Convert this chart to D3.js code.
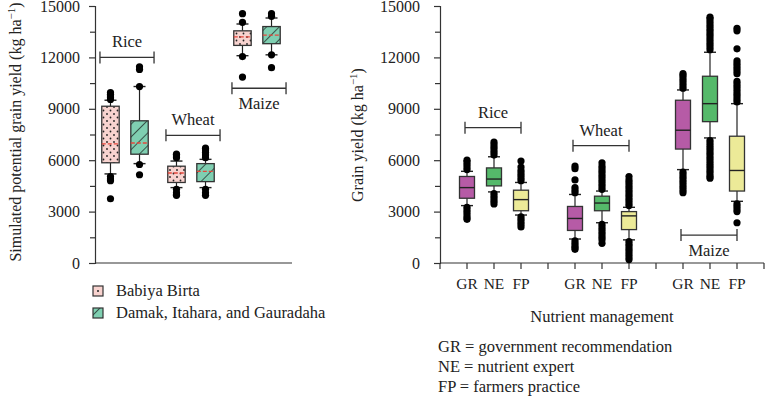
<!DOCTYPE html>
<html>
<head>
<meta charset="utf-8">
<script src="https://cdn.jsdelivr.net/npm/d3@7"></script>
<style>
  body { margin: 0; background: #fff; }
  svg text { font-family: "Liberation Serif", "DejaVu Serif", serif; fill: #222; }
</style>
</head>
<body>
<svg id="chart" width="766" height="397"></svg>
<script>
'use strict';

// ---- left panel data: simulated potential yield by crop and site ----
const crops = ["Rice", "Wheat", "Maize"];
const sites = ["Babiya Birta", "Damak, Itahara, and Gauradaha"];

// [whiskerLow, q1, median, q3, whiskerHigh] per crop, per site
const simBabiya = [
  [5200, 5850, 6950, 9150, 9500],
  [4400, 4700, 5250, 5650, 5950],
  [12100, 12700, 13200, 13550, 13950]
];
const simDamak = [
  [5800, 6350, 7000, 8300, 10300],
  [4400, 4750, 5350, 5800, 6050],
  [12150, 12800, 13300, 13800, 14300]
];
const simBabiyaOut = [
  [9550, 9650, 9750, 9850, 9950, 5050, 4900, 4800, 3750],
  [6150, 6250, 6350, 4300, 4100, 4000, 3950],
  [14050, 14550, 12050, 10850]
];
const simDamakOut = [
  [10300, 11300, 11450, 5750, 5150],
  [6150, 6300, 6450, 6600, 6700, 4300, 4100, 3950],
  [14400, 14550, 12150, 11400]
];

// ---- right panel data: observed yield by nutrient management ----
const treatments = ["GR", "NE", "FP"];
const obsStats = {
  Rice:  [[3350, 3780, 4400, 5050, 5350], [4150, 4500, 4900, 5550, 6200], [2800, 3050, 3700, 4250, 4700]],
  Wheat: [[1400, 1900, 2600, 3300, 4000], [2350, 3050, 3500, 3900, 4200], [1350, 1950, 2750, 3000, 3250]],
  Maize: [[5450, 6650, 7750, 9500, 10100], [7300, 8250, 9300, 10900, 12300], [3600, 4200, 5400, 7400, 9300]]
};
const obsOut = {
  Rice: [
    [5450, 5600, 5750, 5900, 6000, 3250, 3100, 2950, 2800, 2650, 2550],
    [6300, 6450, 6600, 6750, 6900, 7050, 4050, 3900, 3750, 3600, 3450],
    [4800, 4950, 5100, 5250, 5400, 5600, 5950, 2700, 2550, 2400, 2250, 2100]
  ],
  Wheat: [
    [4100, 4250, 4400, 4850, 5500, 5650, 1300, 1150, 1000, 900, 800],
    [4300, 4450, 4600, 4750, 4900, 5050, 5200, 5350, 5500, 5650, 5850, 2250, 2100, 1950, 1800, 1650, 1500, 1350, 1150],
    [3350, 3500, 3650, 3800, 3950, 4100, 4250, 4400, 4550, 4700, 4850, 5050, 1250, 1100, 950, 800, 650, 500, 350, 200]
  ],
  Maize: [
    [10200, 10350, 10500, 10650, 10800, 10950, 11050, 5300, 5150, 5000, 4850, 4700, 4550, 4400, 4250, 4100],
    [12450, 12600, 12750, 12900, 13050, 13200, 13350, 13500, 13650, 13800, 13950, 14100, 14250, 14350,
     7150, 7000, 6850, 6700, 6550, 6400, 6250, 6100, 5950, 5800, 5650, 5500, 5350, 5200, 5050, 4950],
    [13700, 13550, 12500, 11800, 11650, 11500, 11350, 11200, 11050, 10600, 10450, 10300, 10150, 10000,
     9850, 9700, 9550, 9400, 3450, 3300, 3150, 3000, 2350]
  ]
};

const yTicks = [0, 3000, 6000, 9000, 12000, 15000];
const yMinorTicks = [1500, 4500, 7500, 10500, 13500];
const leftBrackets = [12000, 7450, 10200];   // y value of the crop brackets
const rightBrackets = [7900, 6850, 1630];
const treatmentNotes = ["GR = government recommendation", "NE = nutrient expert", "FP = farmers practice"];

const svg = d3.select("#chart");
const axisColor = "#333";
const labelSize = 16.5;

// patterns for the left panel
const defs = svg.append("defs");
const dots = defs.append("pattern").attr("id", "dots").attr("patternUnits", "userSpaceOnUse")
  .attr("width", 7).attr("height", 7);
dots.append("rect").attr("width", 7).attr("height", 7).attr("fill", "#f8d3cf");
dots.append("circle").attr("cx", 2).attr("cy", 2).attr("r", 0.9).attr("fill", "#222");
dots.append("circle").attr("cx", 5.5).attr("cy", 5.5).attr("r", 0.9).attr("fill", "#222");

const hatch = defs.append("pattern").attr("id", "hatch").attr("patternUnits", "userSpaceOnUse")
  .attr("width", 9).attr("height", 9).attr("patternTransform", "rotate(45)");
hatch.append("rect").attr("width", 9).attr("height", 9).attr("fill", "#7fcfb1");
hatch.append("line").attr("x1", 0).attr("y1", 0).attr("x2", 0).attr("y2", 9)
  .attr("stroke", "#111").attr("stroke-width", 1.3);

const y = d3.scaleLinear().domain([0, 15000]).range([263, 6]);

function drawYAxis(g, x0, pad) {
  g.append("g")
    .attr("transform", `translate(${x0},0)`)
    .call(d3.axisLeft(y).tickValues(yTicks).tickSize(6).tickPadding(pad).tickFormat(d3.format("d")))
    .call(a => a.select(".domain").attr("stroke", axisColor).attr("stroke-width", 1.2))
    .call(a => a.selectAll(".tick line").attr("stroke", axisColor).attr("stroke-width", 1.2))
    .call(a => a.selectAll("text").attr("font-size", 16).attr("fill", "#222")
      .style("font-family", "'Liberation Serif', serif"));
  g.append("g")
    .attr("transform", `translate(${x0},0)`)
    .call(d3.axisLeft(y).tickValues(yMinorTicks).tickSize(5).tickFormat(""))
    .call(a => a.select(".domain").remove())
    .call(a => a.selectAll(".tick line").attr("stroke", axisColor).attr("stroke-width", 1.2));
}

function drawBox(g, cx, w, s, out, fill, medianStyle) {
  const [lo, q1, med, q3, hi] = s;
  const cap = 12;
  g.append("line").attr("x1", cx).attr("x2", cx).attr("y1", y(lo)).attr("y2", y(q1))
    .attr("stroke", "#222").attr("stroke-width", 1.2);
  g.append("line").attr("x1", cx).attr("x2", cx).attr("y1", y(q3)).attr("y2", y(hi))
    .attr("stroke", "#222").attr("stroke-width", 1.2);
  [lo, hi].forEach(v => g.append("line").attr("x1", cx - cap / 2).attr("x2", cx + cap / 2)
    .attr("y1", y(v)).attr("y2", y(v)).attr("stroke", "#222").attr("stroke-width", 1.4));
  g.append("rect").attr("x", cx - w / 2).attr("width", w)
    .attr("y", y(q3)).attr("height", y(q1) - y(q3))
    .attr("fill", fill).attr("stroke", "#333").attr("stroke-width", 1.3);
  const m = g.append("line").attr("x1", cx - w / 2).attr("x2", cx + w / 2)
    .attr("y1", y(med)).attr("y2", y(med));
  if (medianStyle === "red") {
    m.attr("stroke", "#e5483c").attr("stroke-width", 1.4).attr("stroke-dasharray", "4,2");
  } else {
    m.attr("stroke", "#222").attr("stroke-width", 1.4);
  }
  g.selectAll(null).data(out).enter().append("circle")
    .attr("cx", cx).attr("cy", d => y(d)).attr("r", 3.6).attr("fill", "#000");
}

function bracket(g, x1, x2, yv, label, above) {
  const yy = y(yv);
  g.append("path")
    .attr("d", `M${x1},${yy - 6}V${yy + 6}M${x1},${yy}H${x2}M${x2},${yy - 6}V${yy + 6}`)
    .attr("fill", "none").attr("stroke", "#333").attr("stroke-width", 1.3);
  g.append("text").attr("x", (x1 + x2) / 2).attr("y", above ? yy - 10 : yy + 21)
    .attr("text-anchor", "middle").attr("font-size", labelSize).text(label);
}

// ---------------- left panel ----------------
const left = svg.append("g");
const xCrop = d3.scaleBand().domain(crops).range([92, 290]).paddingInner(0.12).paddingOuter(0.06);
const xSite = d3.scaleBand().domain(sites).range([0, xCrop.bandwidth()]);
const siteFill = ["url(#dots)", "url(#hatch)"];

drawYAxis(left, 95, 9);
left.append("line").attr("x1", 95).attr("x2", 292).attr("y1", y(0)).attr("y2", y(0))
  .attr("stroke", axisColor).attr("stroke-width", 1.2);

crops.forEach((c, i) => {
  const x0 = xCrop(c);
  [[simBabiya, simBabiyaOut], [simDamak, simDamakOut]].forEach(([st, out], j) => {
    const cx = x0 + xSite(sites[j]) + xSite.bandwidth() / 2;
    drawBox(left, cx, xSite.bandwidth() * 0.6, st[i], out[i], siteFill[j], "red");
  });
  bracket(left, x0 + 4, x0 + xCrop.bandwidth(), leftBrackets[i], c, c !== "Maize");
});

left.append("text")
  .attr("transform", "translate(21,132) rotate(-90)")
  .attr("text-anchor", "middle").attr("font-size", 16)
  .call(t => {
    t.append("tspan").text("Simulated potential grain yield (kg ha");
    t.append("tspan").attr("dy", -6).attr("font-size", 11).text("−1");
    t.append("tspan").attr("dy", 6).text(")");
  });

// legend
const legend = left.append("g");
sites.forEach((s, j) => {
  const ly = 291 + j * 22;
  legend.append("rect").attr("x", 93).attr("y", ly - 5).attr("width", 10).attr("height", 10)
    .attr("fill", j === 0 ? "#f8d3cf" : "url(#hatch)").attr("stroke", "#333").attr("stroke-width", 1.2);
  if (j === 0) legend.append("circle").attr("cx", 98).attr("cy", ly).attr("r", 1).attr("fill", "#222");
  legend.append("text").attr("x", 116).attr("y", ly + 5).attr("font-size", labelSize).text(s);
});

// ---------------- right panel ----------------
const right = svg.append("g");
const xGroup = d3.scaleBand().domain(crops).range([440, 764]);
const xTreat = d3.scalePoint().domain(treatments).range([0, xGroup.bandwidth()]).padding(1);
const treatFill = { GR: "#b65ba6", NE: "#55b96a", FP: "#ecea98" };

drawYAxis(right, 440, 14);
right.append("line").attr("x1", 440).attr("x2", 764).attr("y1", y(0)).attr("y2", y(0))
  .attr("stroke", axisColor).attr("stroke-width", 1.2);

const xTickPos = [];
crops.forEach(c => {
  xTickPos.push(xGroup(c));
  treatments.forEach(t => xTickPos.push(xGroup(c) + xTreat(t)));
});
xTickPos.push(xGroup.range()[1]);
right.selectAll(".xt").data(xTickPos).enter().append("line")
  .attr("x1", d => d).attr("x2", d => d).attr("y1", y(0)).attr("y2", y(0) + 6)
  .attr("stroke", axisColor).attr("stroke-width", 1.2);

crops.forEach((c, i) => {
  treatments.forEach((t, k) => {
    const cx = xGroup(c) + xTreat(t);
    drawBox(right, cx, 15, obsStats[c][k], obsOut[c][k], treatFill[t], "black");
    right.append("text").attr("x", cx).attr("y", 289).attr("text-anchor", "middle")
      .attr("font-size", 15.5).text(t);
  });
  bracket(right, xGroup(c) + xTreat("GR") - 2, xGroup(c) + xTreat("FP"), rightBrackets[i], c, c !== "Maize");
});

right.append("text")
  .attr("transform", "translate(363,135) rotate(-90)")
  .attr("text-anchor", "middle").attr("font-size", 16)
  .call(t => {
    t.append("tspan").text("Grain yield (kg ha");
    t.append("tspan").attr("dy", -6).attr("font-size", 11).text("−1");
    t.append("tspan").attr("dy", 6).text(")");
  });

right.append("text").attr("x", 602).attr("y", 322).attr("text-anchor", "middle")
  .attr("font-size", labelSize).text("Nutrient management");

treatmentNotes.forEach((n, i) => {
  right.append("text").attr("x", 438).attr("y", 352 + i * 20).attr("font-size", labelSize).text(n);
});
</script>
</body>
</html>
